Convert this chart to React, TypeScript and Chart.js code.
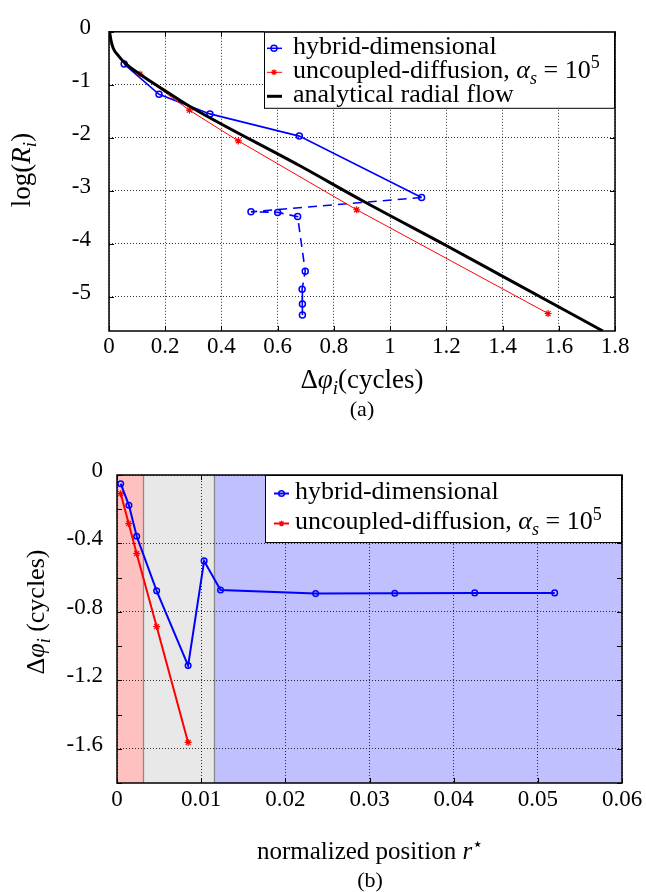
import React, { useEffect, useRef } from "react";
import { Chart, registerables } from "chart.js";
Chart.register(...registerables);

const FONT = "'Liberation Serif', 'Times New Roman', Times, serif";
const BLUE = "#0000ff";
const RED = "#ff0000";
const GRID = "rgba(0,0,0,0.8)";
const TICK_SIZE = 23;

// ---------------- chart (a) data ----------------
const aHybridDphi = [0.054, 0.178, 0.359, 0.677, 1.112, 0.505, 0.6, 0.671, 0.698, 0.687, 0.688, 0.688];
const aHybridLogR = [-0.61, -1.18, -1.55, -1.97, -3.13, -3.4, -3.41, -3.49, -4.52, -4.86, -5.14, -5.35];
const aUncoupledDphi = [0.11, 0.286, 0.46, 0.881, 1.562];
const aUncoupledLogR = [-0.8, -1.48, -2.06, -3.36, -5.32];
const aAnalyticDphi = [0.002, 0.007, 0.015, 0.033, 0.057, 0.11, 0.205, 0.288, 0.679, 0.905, 1.201, 1.391, 1.757];
const aAnalyticLogR = [0, -0.16, -0.31, -0.45, -0.59, -0.8, -1.13, -1.41, -2.53, -3.2, -4.04, -4.59, -5.65];
const aXTicks = [0, 0.2, 0.4, 0.6, 0.8, 1, 1.2, 1.4, 1.6, 1.8];
const aYTicks = [-5, -4, -3, -2, -1, 0];
const aXRange = [0, 1.8];
const aYRange = [-5.65, 0];

// ---------------- chart (b) data ----------------
const bHybridR = [0.00044, 0.00142, 0.00234, 0.00471, 0.00845, 0.01035, 0.0123, 0.0236, 0.033, 0.0425, 0.052];
const bHybridDphi = [-0.051, -0.177, -0.358, -0.677, -1.114, -0.502, -0.672, -0.693, -0.691, -0.689, -0.689];
const bUncoupledR = [0.00044, 0.00139, 0.00234, 0.00471, 0.00845];
const bUncoupledDphi = [-0.109, -0.284, -0.46, -0.886, -1.563];
const bXTicks = [0, 0.01, 0.02, 0.03, 0.04, 0.05, 0.06];
const bYTicks = [-1.6, -1.2, -0.8, -0.4, 0];
const bYMinorTicks = [-1.8, -1.4, -1.0, -0.6, -0.2];
const bXRange = [0, 0.06];
const bYRange = [-1.8, 0];
const bRegionEdges = [0, 0.0031, 0.0115, 0.06];
const bRegionColors = ["#ffc0c0", "#e8e8e8", "#c0c0ff"];

type Seg = { t: string; it?: boolean; pos?: "sub" | "sup" };

const segHybrid: Seg[] = [{ t: "hybrid-dimensional" }];
const segUncoupled: Seg[] = [
  { t: "uncoupled-diffusion, " },
  { t: "α", it: true },
  { t: "s", it: true, pos: "sub" },
  { t: " = 10" },
  { t: "5", pos: "sup" },
];
const segAnalytic: Seg[] = [{ t: "analytical radial flow" }];

const pts = (xs: number[], ys: number[]) => xs.map((x, i) => ({ x, y: ys[i] }));
const fmt = (v: any) => String(+(+v).toFixed(3));

function drawRich(
  ctx: CanvasRenderingContext2D,
  segs: Seg[],
  x: number,
  y: number,
  size: number,
  align: "left" | "center" = "left",
  rot = 0
) {
  ctx.save();
  ctx.translate(x, y);
  if (rot) ctx.rotate(rot);
  const fontFor = (s: Seg) =>
    `${s.it ? "italic " : ""}${s.pos ? Math.round(size * 0.7) : size}px ${FONT}`;
  let total = 0;
  const widths = segs.map((s) => {
    ctx.font = fontFor(s);
    const w = ctx.measureText(s.t).width;
    total += w;
    return w;
  });
  let cx = align === "center" ? -total / 2 : 0;
  ctx.textBaseline = "alphabetic";
  ctx.textAlign = "left";
  ctx.fillStyle = "#000";
  segs.forEach((s, i) => {
    ctx.font = fontFor(s);
    const dy = s.pos === "sub" ? size * 0.22 : s.pos === "sup" ? -size * 0.38 : 0;
    ctx.fillText(s.t, cx, dy);
    cx += widths[i];
  });
  ctx.restore();
}

function drawMarker(ctx: CanvasRenderingContext2D, kind: string, x: number, y: number, color: string, r: number) {
  ctx.save();
  ctx.strokeStyle = color;
  if (kind === "circle") {
    ctx.lineWidth = 1.5;
    ctx.beginPath();
    ctx.arc(x, y, r, 0, Math.PI * 2);
    ctx.stroke();
  } else if (kind === "star") {
    ctx.lineWidth = 1.2;
    ctx.beginPath();
    for (let k = 0; k < 4; k++) {
      const a = (k * Math.PI) / 4;
      ctx.moveTo(x - r * Math.cos(a), y - r * Math.sin(a));
      ctx.lineTo(x + r * Math.cos(a), y + r * Math.sin(a));
    }
    ctx.stroke();
  }
  ctx.restore();
}

type LegendRow = { kind: string; color: string; lw: number; segs: Seg[] };
type LegendCfg = {
  w: number;
  h: number;
  rows: LegendRow[];
  rowYs: number[];
  lineX0: number;
  lineX1: number;
  markX: number;
  textX: number;
  size: number;
  markR: number;
};

type TitleCfg = { segs: Seg[]; x: number; y: number; size: number; rot?: number };

type PlotCfg = {
  xTicks: number[];
  yTicks: number[];
  yMinor?: number[];
  regions?: { edges: number[]; colors: string[] };
  legend: LegendCfg;
  titles: TitleCfg[];
};

function makePlugin(cfg: PlotCfg) {
  return {
    id: "decor",
    beforeDraw(chart: any) {
      if (!cfg.regions) return;
      const { ctx, chartArea: a, scales } = chart;
      const xs = scales.x;
      ctx.save();
      for (let i = 0; i < cfg.regions.colors.length; i++) {
        const x0 = xs.getPixelForValue(cfg.regions.edges[i]);
        const x1 = xs.getPixelForValue(cfg.regions.edges[i + 1]);
        ctx.fillStyle = cfg.regions.colors[i];
        ctx.fillRect(x0, a.top, x1 - x0, a.bottom - a.top);
      }
      ctx.strokeStyle = "#8a8a8a";
      ctx.lineWidth = 1.3;
      for (let i = 1; i < cfg.regions.edges.length - 1; i++) {
        const x = Math.round(xs.getPixelForValue(cfg.regions.edges[i])) + 0.5;
        ctx.beginPath();
        ctx.moveTo(x, a.top);
        ctx.lineTo(x, a.bottom);
        ctx.stroke();
      }
      ctx.restore();
    },
    afterDatasetsDraw(chart: any) {
      const { ctx, chartArea: a, scales } = chart;
      ctx.save();
      ctx.strokeStyle = "#000";
      ctx.lineWidth = 1;
      const tl = 5;
      ctx.beginPath();
      cfg.xTicks.forEach((v) => {
        const x = Math.round(scales.x.getPixelForValue(v)) + 0.5;
        ctx.moveTo(x, a.bottom);
        ctx.lineTo(x, a.bottom - tl);
        ctx.moveTo(x, a.top);
        ctx.lineTo(x, a.top + tl);
      });
      [...cfg.yTicks, ...(cfg.yMinor || [])].forEach((v) => {
        const y = Math.round(scales.y.getPixelForValue(v)) + 0.5;
        ctx.moveTo(a.left, y);
        ctx.lineTo(a.left + tl, y);
        ctx.moveTo(a.right, y);
        ctx.lineTo(a.right - tl, y);
      });
      ctx.stroke();
      ctx.lineWidth = 1.5;
      ctx.strokeRect(a.left, a.top, a.right - a.left, a.bottom - a.top);
      ctx.restore();
    },
    afterDraw(chart: any) {
      const { ctx, chartArea: a } = chart;
      const L = cfg.legend;
      const left = a.right - L.w;
      const top = a.top;
      ctx.save();
      ctx.fillStyle = "#fff";
      ctx.fillRect(left, top, L.w, L.h);
      ctx.strokeStyle = "#000";
      ctx.lineWidth = 1;
      ctx.strokeRect(left + 0.5, top + 0.5, L.w - 1, L.h - 1);
      L.rows.forEach((r, i) => {
        const y = top + L.rowYs[i];
        ctx.strokeStyle = r.color;
        ctx.lineWidth = r.lw;
        ctx.beginPath();
        ctx.moveTo(left + L.lineX0, y);
        ctx.lineTo(left + L.lineX1, y);
        ctx.stroke();
        drawMarker(ctx, r.kind, left + L.markX, y, r.color, L.markR);
        drawRich(ctx, r.segs, left + L.textX, y + L.size * 0.23, L.size, "left");
      });
      ctx.restore();
      cfg.titles.forEach((t) => drawRich(ctx, t.segs, t.x, t.y, t.size, "center", t.rot || 0));
    },
  };
}

function axisOptions(p: {
  xRange: number[];
  yRange: number[];
  xTicks: number[];
  yTicks: number[];
  yWidth: number;
  xHeight: number;
  xPad: number;
  yPad: number;
}) {
  return {
    x: {
      type: "linear",
      min: p.xRange[0],
      max: p.xRange[1],
      afterBuildTicks: (s: any) => {
        s.ticks = p.xTicks.map((v) => ({ value: v }));
      },
      afterFit: (s: any) => {
        s.height = p.xHeight;
      },
      ticks: {
        font: { family: FONT, size: TICK_SIZE },
        color: "#000",
        padding: p.xPad,
        maxRotation: 0,
        autoSkip: false,
        callback: fmt,
      },
      grid: { color: GRID, lineWidth: 1, drawTicks: false },
      border: { display: false, dash: [1, 2] },
    },
    y: {
      type: "linear",
      min: p.yRange[0],
      max: p.yRange[1],
      afterBuildTicks: (s: any) => {
        s.ticks = p.yTicks.map((v) => ({ value: v }));
      },
      afterFit: (s: any) => {
        s.width = p.yWidth;
      },
      ticks: {
        font: { family: FONT, size: TICK_SIZE },
        color: "#000",
        padding: p.yPad,
        labelOffset: -4,
        autoSkip: false,
        callback: fmt,
      },
      grid: { color: GRID, lineWidth: 1, drawTicks: false },
      border: { display: false, dash: [1, 2] },
    },
  };
}

export default function App() {
  const refA = useRef<HTMLCanvasElement>(null);
  const refB = useRef<HTMLCanvasElement>(null);

  useEffect(() => {
    const chartA = new Chart(refA.current as HTMLCanvasElement, {
      type: "scatter",
      data: {
        datasets: [
          {
            label: "analytical radial flow",
            data: pts(aAnalyticDphi, aAnalyticLogR),
            showLine: true,
            borderColor: "#000",
            borderWidth: 3,
            pointRadius: 0,
            cubicInterpolationMode: "monotone",
          },
          {
            label: "uncoupled-diffusion",
            data: pts(aUncoupledDphi, aUncoupledLogR),
            showLine: true,
            borderColor: RED,
            borderWidth: 1,
            pointStyle: "star",
            pointRadius: 3.5,
            pointBorderColor: RED,
            pointBorderWidth: 1.2,
            pointBackgroundColor: RED,
          },
          {
            label: "hybrid-dimensional",
            data: pts(aHybridDphi, aHybridLogR),
            showLine: true,
            borderColor: BLUE,
            borderWidth: 1.6,
            pointStyle: "circle",
            pointRadius: 3,
            pointBorderWidth: 1.5,
            pointBorderColor: BLUE,
            pointBackgroundColor: "rgba(0,0,0,0)",
            segment: {
              borderDash: (c: any) => (c.p0DataIndex >= 4 ? [9, 6] : undefined),
            },
          },
        ],
      } as any,
      options: {
        responsive: false,
        animation: false,
        events: [],
        layout: { padding: { top: 23, right: 31, left: 0, bottom: 0 } },
        plugins: { legend: { display: false }, tooltip: { enabled: false } },
        scales: axisOptions({
          xRange: aXRange,
          yRange: aYRange,
          xTicks: aXTicks,
          yTicks: aYTicks,
          yWidth: 109,
          xHeight: 115,
          xPad: 2,
          yPad: 18,
        }) as any,
      } as any,
      plugins: [
        makePlugin({
          xTicks: aXTicks,
          yTicks: aYTicks,
          legend: {
            w: 351,
            h: 77,
            rows: [
              { kind: "circle", color: BLUE, lw: 1.5, segs: segHybrid },
              { kind: "star", color: RED, lw: 1, segs: segUncoupled },
              { kind: "line", color: "#000", lw: 3, segs: segAnalytic },
            ],
            rowYs: [16.5, 40.5, 64.5],
            lineX0: 3,
            lineX1: 18,
            markX: 10,
            textX: 29,
            size: 26,
            markR: 3,
          },
          titles: [
            {
              segs: [{ t: "Δ" }, { t: "φ", it: true }, { t: "i", it: true, pos: "sub" }, { t: "(cycles)" }],
              x: 362,
              y: 388,
              size: 27,
            },
            { segs: [{ t: "(a)" }], x: 362, y: 416, size: 22 },
            {
              segs: [{ t: "log(" }, { t: "R", it: true }, { t: "i", it: true, pos: "sub" }, { t: ")" }],
              x: 30,
              y: 170,
              size: 27,
              rot: -Math.PI / 2,
            },
          ],
        }) as any,
      ],
    });

    const chartB = new Chart(refB.current as HTMLCanvasElement, {
      type: "scatter",
      data: {
        datasets: [
          {
            label: "hybrid-dimensional",
            data: pts(bHybridR, bHybridDphi),
            showLine: true,
            borderColor: BLUE,
            borderWidth: 2,
            pointStyle: "circle",
            pointRadius: 2.8,
            pointBorderWidth: 1.5,
            pointBorderColor: BLUE,
            pointBackgroundColor: "rgba(0,0,0,0)",
          },
          {
            label: "uncoupled-diffusion",
            data: pts(bUncoupledR, bUncoupledDphi),
            showLine: true,
            borderColor: RED,
            borderWidth: 2,
            pointStyle: "star",
            pointRadius: 3.5,
            pointBorderColor: RED,
            pointBorderWidth: 1.2,
            pointBackgroundColor: RED,
          },
        ],
      } as any,
      options: {
        responsive: false,
        animation: false,
        events: [],
        layout: { padding: { top: 29, right: 24, left: 0, bottom: 0 } },
        plugins: { legend: { display: false }, tooltip: { enabled: false } },
        scales: axisOptions({
          xRange: bXRange,
          yRange: bYRange,
          xTicks: bXTicks,
          yTicks: bYTicks,
          yWidth: 117,
          xHeight: 109,
          xPad: 3,
          yPad: 14,
        }) as any,
      } as any,
      plugins: [
        makePlugin({
          xTicks: bXTicks,
          yTicks: bYTicks,
          yMinor: bYMinorTicks,
          regions: { edges: bRegionEdges, colors: bRegionColors },
          legend: {
            w: 357,
            h: 68,
            rows: [
              { kind: "circle", color: BLUE, lw: 2, segs: segHybrid },
              { kind: "star", color: RED, lw: 2, segs: segUncoupled },
            ],
            rowYs: [18.5, 48.5],
            lineX0: 9,
            lineX1: 24,
            markX: 16.5,
            textX: 30,
            size: 26,
            markR: 2.8,
          },
          titles: [
            {
              segs: [{ t: "normalized position " }, { t: "r", it: true }, { t: "⋆", pos: "sup" }],
              x: 370,
              y: 413,
              size: 25,
            },
            { segs: [{ t: "(b)" }], x: 370, y: 441, size: 22 },
            {
              segs: [{ t: "Δ" }, { t: "φ", it: true }, { t: "i", it: true, pos: "sub" }, { t: " (cycles)" }],
              x: 44,
              y: 166,
              size: 26,
              rot: -Math.PI / 2,
            },
          ],
        }) as any,
      ],
    });

    return () => {
      chartA.destroy();
      chartB.destroy();
    };
  }, []);

  return (
    <div style={{ position: "absolute", left: 0, top: 0, width: 646, height: 892, background: "#fff" }}>
      <canvas ref={refA} width={646} height={446} style={{ position: "absolute", left: 0, top: 0, display: "block" }} />
      <canvas ref={refB} width={646} height={446} style={{ position: "absolute", left: 0, top: 446, display: "block" }} />
    </div>
  );
}
